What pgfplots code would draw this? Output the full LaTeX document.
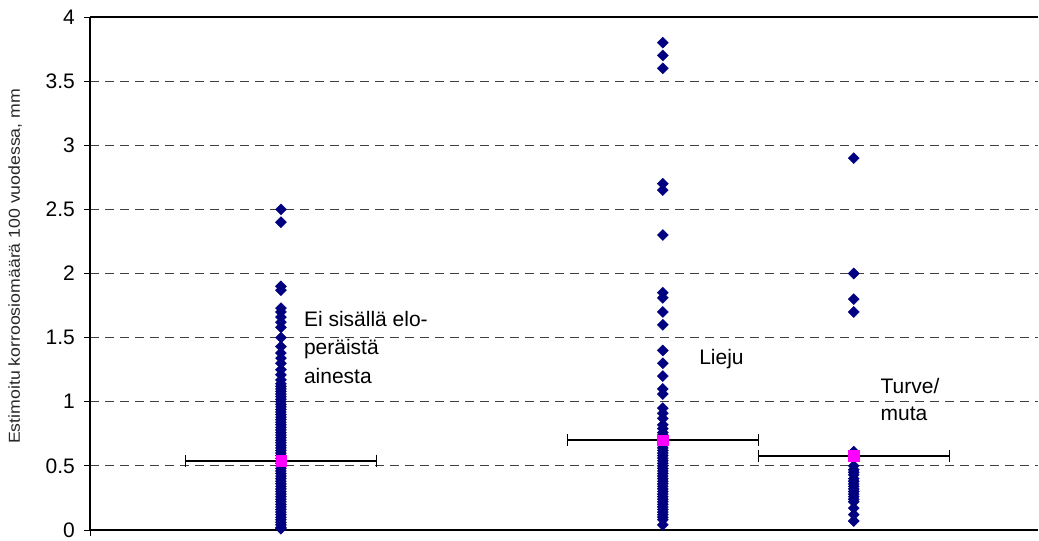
\documentclass[border=0pt]{standalone}
\usepackage{pgfplots}
\pgfplotsset{compat=1.18}
\usepackage{fontspec}
\setmainfont{Liberation Sans}
\usepackage{graphicx}
\definecolor{navyd}{RGB}{0,0,128}
\definecolor{magp}{RGB}{255,0,255}
\begin{document}
\fontsize{21pt}{25pt}\selectfont
\begin{tikzpicture}
\begin{axis}[
  scale only axis, width=948pt, height=513pt,
  xmin=0, xmax=4.965, ymin=0, ymax=4,
  clip=false,
  axis x line=bottom, axis y line=left,
  axis line style={line width=2.5pt, -},
  xtick={0}, xticklabels={},
  ytick={0,0.5,1,1.5,2,2.5,3,3.5,4},
  yticklabels={0,0.5,1,1.5,2,2.5,3,3.5,4},
  yticklabel style={font=\fontsize{21pt}{25pt}\selectfont, xshift=-2pt},
  tick style={black, line width=0.8pt},
  tick align=outside, major tick length=6pt,
  ymajorgrids,
  grid style={black!75, line width=0.9pt, dash pattern=on 9pt off 6pt},
  ylabel={\resizebox{355pt}{11.5pt}{Estimoitu korroosiomäärä 100 vuodessa, mm}},
  y label style={at={(axis description cs:-0.079,0.514)}, anchor=center, text=black!85},
]
% Ei sisällä eloperäistä ainesta
\addplot[only marks, mark=square*, mark size=3.9pt, color=navyd, mark options={rotate=45}] coordinates {
(1,2.50) (1,2.40) (1,1.90) (1,1.87) (1,1.73) (1,1.70) (1,1.66) (1,1.62) (1,1.58) (1,1.50)
(1,1.43) (1,1.38) (1,1.34) (1,1.30) (1,1.25) (1,1.21) (1,1.17)
(1,1.14) (1,1.12) (1,1.10) (1,1.08) (1,1.06) (1,1.04) (1,1.02) (1,1.00) (1,0.98) (1,0.96)
(1,0.94) (1,0.92) (1,0.90) (1,0.88) (1,0.86) (1,0.84) (1,0.82) (1,0.80) (1,0.78) (1,0.76)
(1,0.74) (1,0.72) (1,0.70) (1,0.68) (1,0.66) (1,0.64) (1,0.62) (1,0.60) (1,0.58) (1,0.56)
(1,0.54) (1,0.52) (1,0.50) (1,0.48) (1,0.46) (1,0.44) (1,0.42) (1,0.40) (1,0.38) (1,0.36)
(1,0.34) (1,0.32) (1,0.30) (1,0.28) (1,0.26) (1,0.24) (1,0.22) (1,0.20) (1,0.18) (1,0.16)
(1,0.14) (1,0.12) (1,0.10) (1,0.08) (1,0.06) (1,0.04) (1,0.02) (1,0.01)
};
% Lieju
\addplot[only marks, mark=square*, mark size=3.9pt, color=navyd, mark options={rotate=45}] coordinates {
(3,3.80) (3,3.70) (3,3.60) (3,2.70) (3,2.65) (3,2.30) (3,1.85) (3,1.81) (3,1.70) (3,1.60)
(3,1.40) (3,1.30) (3,1.20) (3,1.10) (3,1.06) (3,0.95) (3,0.91) (3,0.87) (3,0.82) (3,0.79)
(3,0.76) (3,0.74) (3,0.72) (3,0.70) (3,0.68) (3,0.66) (3,0.64) (3,0.62) (3,0.60) (3,0.58)
(3,0.56) (3,0.54) (3,0.52) (3,0.50) (3,0.48) (3,0.46) (3,0.44) (3,0.42) (3,0.40) (3,0.38)
(3,0.36) (3,0.34) (3,0.32) (3,0.30) (3,0.28) (3,0.26) (3,0.24) (3,0.22) (3,0.20) (3,0.18)
(3,0.16) (3,0.14) (3,0.12) (3,0.10) (3,0.08) (3,0.04)
};
% Turve/muta
\addplot[only marks, mark=square*, mark size=3.9pt, color=navyd, mark options={rotate=45}] coordinates {
(4,2.90) (4,2.00) (4,1.80) (4,1.70) (4,0.61) (4,0.50) (4,0.47) (4,0.45) (4,0.43) (4,0.40)
(4,0.38) (4,0.36) (4,0.34) (4,0.32) (4,0.30) (4,0.28) (4,0.26) (4,0.24) (4,0.22) (4,0.17)
(4,0.12) (4,0.07)
};
% means with error bars
\addplot[only marks, mark=square*, mark size=5.2pt, color=magp,
  error bars/.cd, x dir=both, x explicit,
  error mark=|,
  error bar style={black, line width=1.8pt},
  error mark options={black, line width=1.3pt, mark size=6pt, rotate=0}]
  coordinates {(1,0.54) +- (0.5,0) (3,0.70) +- (0.5,0) (4,0.58) +- (0.5,0)};
\draw[line width=2.5pt] (rel axis cs:0,1) -- (rel axis cs:1,1);
\node[anchor=base west, inner sep=0pt] at (axis cs:1.12,1.583) {Ei sisällä elo-};
\node[anchor=base west, inner sep=0pt] at (axis cs:1.12,1.365) {peräistä};
\node[anchor=base west, inner sep=0pt] at (axis cs:1.12,1.146) {ainesta};
\node[anchor=base west, inner sep=0pt] at (axis cs:3.19,1.287) {Lieju};
\node[anchor=base west, inner sep=0pt] at (axis cs:4.14,1.068) {Turve/};
\node[anchor=base west, inner sep=0pt] at (axis cs:4.14,0.850) {muta};
\end{axis}
\pgfresetboundingbox
\path[use as bounding box] ([xshift=-90pt,yshift=-11pt]current axis.south west) rectangle ([xshift=1pt,yshift=17pt]current axis.north east);
\end{tikzpicture}
\end{document}
